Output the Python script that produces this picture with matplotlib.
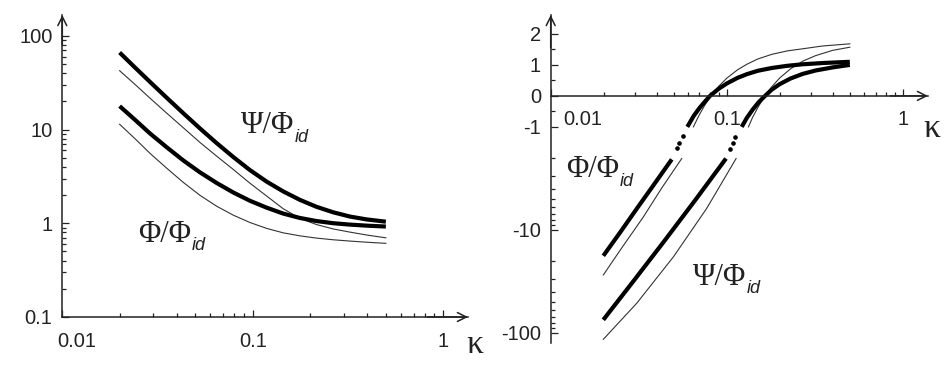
import numpy as np
import matplotlib
matplotlib.use('Agg')
import matplotlib.pyplot as plt
from matplotlib.ticker import NullFormatter, FixedLocator

# ---- left panel data (log-log) ----
k_left = [0.02, 0.0241, 0.0289, 0.0353, 0.0431, 0.0528, 0.0647, 0.0791, 0.0966,
          0.1181, 0.1445, 0.1767, 0.216, 0.2645, 0.324, 0.396, 0.5]
psi_thick = [66.4, 45.9, 32.2, 21.9, 15.0, 10.3, 7.16, 5.09, 3.70,
             2.79, 2.19, 1.78, 1.50, 1.31, 1.18, 1.10, 1.04]
phi_thick = [17.8, 12.7, 9.08, 6.49, 4.70, 3.50, 2.69, 2.13, 1.74,
             1.47, 1.27, 1.14, 1.057, 1.002, 0.968, 0.944, 0.923]
psi_thin = [42.5, 30.3, 21.6, 15.0, 10.5, 7.3, 5.2, 3.75, 2.68,
            1.96, 1.43, 1.13, 0.97, 0.87, 0.805, 0.75, 0.70]
phi_thin = [11.4, 7.98, 5.57, 3.88, 2.74, 1.99, 1.52, 1.22, 1.02,
            0.883, 0.791, 0.735, 0.695, 0.667, 0.646, 0.628, 0.611]

# ---- right panel data, upper parts (y >= -1) ----
k_phi_up = [0.0597, 0.065, 0.07, 0.075, 0.0803, 0.09, 0.1, 0.115, 0.13, 0.15, 0.18, 0.22, 0.27, 0.35, 0.5]
phi_up = [-1, -0.64, -0.39, -0.19, 0, 0.23, 0.40, 0.58, 0.70, 0.81, 0.90, 0.97, 1.02, 1.06, 1.1]
k_phi_up_thin = [0.0646, 0.07, 0.075, 0.0822, 0.09, 0.1, 0.115, 0.13, 0.15, 0.18, 0.22, 0.27, 0.35, 0.5]
phi_up_thin = [-1, -0.6, -0.3, 0.035, 0.31, 0.57, 0.84, 1.02, 1.19, 1.34, 1.45, 1.52, 1.61, 1.68]
k_psi_up = [0.1216, 0.13, 0.14, 0.152, 0.165, 0.18, 0.2, 0.23, 0.27, 0.32, 0.4, 0.5]
psi_up = [-1, -0.71, -0.45, -0.20, 0, 0.20, 0.38, 0.56, 0.71, 0.82, 0.92, 1.0]
k_psi_up_thin = [0.1328, 0.14, 0.15, 0.165, 0.18, 0.2, 0.23, 0.27, 0.32, 0.4, 0.5]
psi_up_thin = [-1, -0.70, -0.38, 0.01, 0.29, 0.58, 0.87, 1.12, 1.30, 1.47, 1.57]

# ---- right panel data, lower parts (y <= -2) ----
k_phi_lo = [0.0199, 0.0248, 0.0309, 0.0386, 0.0487]
phi_lo = [-17.9, -10.6, -6.2, -3.63, -2.07]
k_phi_lo_thin = [0.0199, 0.0248, 0.0336, 0.0428, 0.0555]
phi_lo_thin = [-27.5, -15.8, -7.5, -3.91, -2.03]
k_psi_lo = [0.0199, 0.0297, 0.0446, 0.0669, 0.099]
psi_lo = [-75, -31.1, -12.6, -5.03, -2.03]
k_psi_lo_thin = [0.0199, 0.0308, 0.0498, 0.0769, 0.113]
psi_lo_thin = [-116, -51.8, -18.3, -6.2, -2.03]

# dots in the gaps
k_phi_dots = [0.0524, 0.0538, 0.0566]
phi_dots = [-1.62, -1.43, -1.23]
k_psi_dots = [0.1045, 0.108, 0.112]
psi_dots = [-1.65, -1.43, -1.25]

SANS = ['Liberation Sans', 'DejaVu Sans']
SERIF = ['Liberation Serif', 'DejaVu Serif']
plt.rcParams['font.family'] = SANS
INK = '#222222'

THICK = dict(color='black', lw=3.0, solid_capstyle='butt', solid_joinstyle='round')
THIN = dict(color='#333333', lw=0.8)

fig = plt.figure(figsize=(9.53, 3.78), dpi=100)
W, H = 953, 378

# left axes: x 62..468 px, y 15..317 px
ax1 = fig.add_axes([62.3/W, (H-317)/H, (468-62.3)/W, (317-15)/H])
# right axes: x 551..928 px, y 15..343 px
ax2 = fig.add_axes([550.7/W, (H-343)/H, (928-550.7)/W, (343-15)/H])


def label(ax, x, y, main):
    t = ax.text(x, y, main, transform=ax.transAxes, family=SERIF, fontsize=22,
                va='baseline', ha='left', color=INK)
    ax.annotate('id', xy=(1, 0), xycoords=t, xytext=(0.5, -4), textcoords='offset points',
                family=SANS, style='italic', fontsize=13, va='bottom', ha='left', color=INK)


def arrows(ax, yx=('axes fraction', 'axes fraction'), y0=0):
    ap = dict(arrowstyle='->', lw=1.1, color=INK, shrinkA=0, shrinkB=0, mutation_scale=16)
    ax.annotate('', xy=(1, y0), xytext=(0.9, y0), xycoords=yx, textcoords=yx,
                arrowprops=ap, annotation_clip=False)
    ax.annotate('', xy=(0, 1), xytext=(0, 0.9), xycoords='axes fraction',
                arrowprops=ap, annotation_clip=False)


def style(ax):
    for s in ['top', 'right']:
        ax.spines[s].set_visible(False)
    for s in ['left', 'bottom']:
        ax.spines[s].set_linewidth(1.1)
        ax.spines[s].set_color(INK)
    ax.tick_params(which='both', direction='in', width=0.9, colors=INK,
                   labelsize=14.5)
    ax.tick_params(which='major', length=5)
    ax.tick_params(which='minor', length=3)
    ax.tick_params(axis='x', pad=10.5)
    ax.tick_params(axis='y', pad=7)
    ax.xaxis.set_minor_formatter(NullFormatter())
    ax.patch.set_visible(False)


# ---------------- left panel ----------------
ax1.set_xscale('log')
ax1.set_yscale('log')
ax1.plot(k_left, psi_thin, **THIN)
ax1.plot(k_left, phi_thin, **THIN)
ax1.plot(k_left, psi_thick, **THICK)
ax1.plot(k_left, phi_thick, **THICK)
ax1.set_xlim(0.01, 1.35)
ax1.set_ylim(0.1, 167)
style(ax1)
ax1.yaxis.set_minor_formatter(NullFormatter())
ax1.set_xticks([0.01, 0.1, 1], ['', '0.1', '1'])
ax1.set_yticks([0.1, 1, 10, 100], ['0.1', '1', '10', '100'])
ax1.annotate('0.01', xy=(0.01, 0), xycoords=('data', 'axes fraction'), xytext=(10.6, -10.5),
             textcoords='offset points', ha='center', va='top', fontsize=14.5, color=INK)
arrows(ax1)
label(ax1, 0.4397, 0.609, 'Ψ/Φ')
label(ax1, 0.1866, 0.249, 'Φ/Φ')

# ---------------- right panel ----------------
# linear above -1, logarithmic below -1
K = 3.32


def fwd(y):
    y = np.asarray(y, float)
    return np.where(y >= -1, y, -1 - K*np.log10(np.clip(-y, 1, None)))


def inv(g):
    g = np.asarray(g, float)
    return np.where(g >= -1, g, -10**((-1 - g)/K))


ax2.set_xscale('log')
ax2.set_yscale('function', functions=(fwd, inv))
ax2.plot(k_phi_up_thin, phi_up_thin, **THIN)
ax2.plot(k_psi_up_thin, psi_up_thin, **THIN)
ax2.plot(k_phi_lo_thin, phi_lo_thin, **THIN)
ax2.plot(k_psi_lo_thin, psi_lo_thin, **THIN)
ax2.plot(k_phi_up, phi_up, **THICK)
ax2.plot(k_psi_up, psi_up, **THICK)
ax2.plot(k_phi_lo, phi_lo, **THICK)
ax2.plot(k_psi_lo, psi_lo, **THICK)
ax2.plot(k_phi_dots, phi_dots, 'o', color='black', ms=2.3)
ax2.plot(k_psi_dots, psi_dots, 'o', color='black', ms=2.3)
ax2.set_xlim(0.01, 1.39)
ax2.set_ylim(-126, 2.61)
style(ax2)
ax2.spines['bottom'].set_position(('data', 0))
ax2.set_xticks([0.01, 0.1, 1], ['', '0.1', '1'])
ax2.yaxis.set_major_locator(FixedLocator([-100, -10, -1, 0, 1, 2]))
ax2.set_yticklabels(['-100', '-10', '-1', '0', '1', '2'])
minor_y = [-90, -80, -70, -60, -50, -40, -30, -20,
           -9, -8, -7, -6, -5, -4, -3, -2, -0.5, 0.5, 1.5]
ax2.yaxis.set_minor_locator(FixedLocator(minor_y))
ax2.yaxis.set_minor_formatter(NullFormatter())
ax2.annotate('0.01', xy=(0.01, 0), xycoords='data', xytext=(23, -10.5),
             textcoords='offset points', ha='center', va='top', fontsize=14.5, color=INK)
arrows(ax2, yx=('axes fraction', 'data'), y0=0)
label(ax2, 0.0406, 0.506, 'Φ/Φ')
label(ax2, 0.377, 0.177, 'Ψ/Φ')

# kappa axis labels
fig.text(466/W, (H-353)/H, 'κ', family=SERIF, fontsize=24, color=INK, va='baseline')
fig.text(923/W, (H-137)/H, 'κ', family=SERIF, fontsize=24, color=INK, va='baseline')

fig.savefig('out.png', dpi=100)
